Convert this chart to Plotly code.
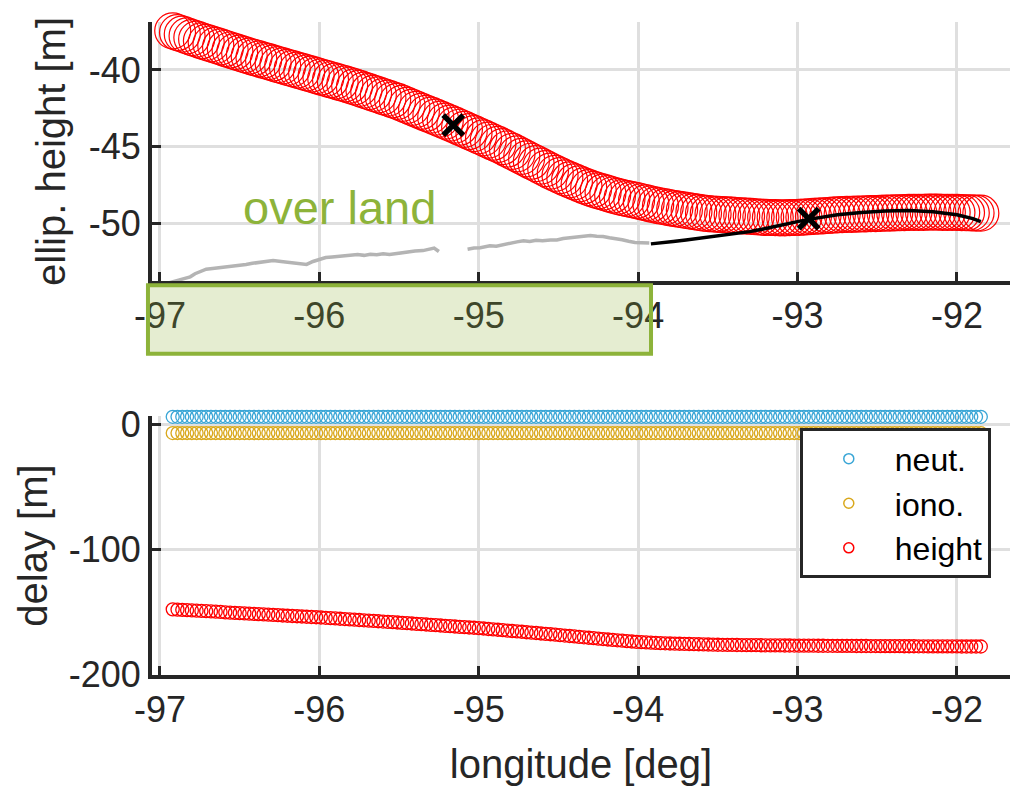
import plotly.graph_objects as go

# ---------------- data ----------------
lon = [
    -96.92, -96.89, -96.86, -96.83, -96.80, -96.77, -96.74, -96.71, -96.68, -96.65,
    -96.62, -96.59, -96.56, -96.53, -96.50, -96.47, -96.44, -96.41, -96.38, -96.35,
    -96.32, -96.29, -96.26, -96.23, -96.20, -96.17, -96.14, -96.11, -96.08, -96.05,
    -96.02, -95.99, -95.96, -95.93, -95.90, -95.87, -95.84, -95.81, -95.78, -95.75,
    -95.72, -95.69, -95.66, -95.63, -95.60, -95.57, -95.54, -95.51, -95.48, -95.45,
    -95.42, -95.39, -95.36, -95.33, -95.30, -95.27, -95.24, -95.21, -95.18, -95.15,
    -95.12, -95.09, -95.06, -95.03, -95.00, -94.97, -94.94, -94.91, -94.88, -94.85,
    -94.82, -94.79, -94.76, -94.73, -94.70, -94.67, -94.64, -94.61, -94.58, -94.55,
    -94.52, -94.49, -94.46, -94.43, -94.40, -94.37, -94.34, -94.31, -94.28, -94.25,
    -94.22, -94.19, -94.16, -94.13, -94.10, -94.07, -94.04, -94.01, -93.98, -93.95,
    -93.92, -93.89, -93.86, -93.83, -93.80, -93.77, -93.74, -93.71, -93.68, -93.65,
    -93.62, -93.59, -93.56, -93.53, -93.50, -93.47, -93.44, -93.41, -93.38, -93.35,
    -93.32, -93.29, -93.26, -93.23, -93.20, -93.17, -93.14, -93.11, -93.08, -93.05,
    -93.02, -92.99, -92.96, -92.93, -92.90, -92.87, -92.84, -92.81, -92.78, -92.75,
    -92.72, -92.69, -92.66, -92.63, -92.60, -92.57, -92.54, -92.51, -92.48, -92.45,
    -92.42, -92.39, -92.36, -92.33, -92.30, -92.27, -92.24, -92.21, -92.18, -92.15,
    -92.12, -92.09, -92.06, -92.03, -92.00, -91.97, -91.94, -91.91, -91.88, -91.85,
]

ellip_height = [
    -37.45, -37.56, -37.67, -37.78, -37.89, -37.99, -38.10, -38.20, -38.30, -38.40,
    -38.50, -38.60, -38.70, -38.80, -38.90, -39.00, -39.10, -39.19, -39.28, -39.37,
    -39.46, -39.55, -39.65, -39.74, -39.83, -39.92, -40.01, -40.10, -40.19, -40.28,
    -40.37, -40.46, -40.55, -40.64, -40.73, -40.82, -40.91, -41.00, -41.11, -41.21,
    -41.32, -41.42, -41.53, -41.63, -41.74, -41.84, -41.95, -42.05, -42.18, -42.31,
    -42.44, -42.57, -42.70, -42.83, -42.95, -43.08, -43.21, -43.34, -43.47, -43.60,
    -43.74, -43.88, -44.02, -44.16, -44.30, -44.44, -44.58, -44.72, -44.86, -45.00,
    -45.16, -45.32, -45.48, -45.64, -45.80, -45.96, -46.12, -46.28, -46.44, -46.60,
    -46.75, -46.90, -47.04, -47.18, -47.31, -47.44, -47.56, -47.68, -47.79, -47.89,
    -47.98, -48.07, -48.16, -48.25, -48.33, -48.40, -48.46, -48.52, -48.60, -48.68,
    -48.75, -48.82, -48.88, -48.94, -49.00, -49.05, -49.10, -49.15, -49.20, -49.25,
    -49.30, -49.35, -49.38, -49.40, -49.42, -49.44, -49.46, -49.48, -49.50, -49.52,
    -49.54, -49.56, -49.58, -49.60, -49.62, -49.63, -49.64, -49.65, -49.65, -49.64,
    -49.63, -49.62, -49.60, -49.58, -49.56, -49.54, -49.52, -49.50, -49.48, -49.46,
    -49.44, -49.43, -49.42, -49.41, -49.40, -49.39, -49.38, -49.37, -49.36, -49.35,
    -49.34, -49.33, -49.32, -49.31, -49.30, -49.30, -49.29, -49.29, -49.28, -49.28,
    -49.28, -49.29, -49.29, -49.30, -49.30, -49.31, -49.32, -49.33, -49.34, -49.35,
]

height_delay = [
    -148.0, -148.2, -148.4, -148.6, -148.9, -149.1, -149.3, -149.5, -149.7, -149.9,
    -150.1, -150.4, -150.6, -150.8, -151.0, -151.2, -151.4, -151.6, -151.8, -152.0,
    -152.2, -152.4, -152.6, -152.9, -153.1, -153.3, -153.5, -153.7, -153.9, -154.1,
    -154.3, -154.5, -154.75, -155.0, -155.25, -155.5, -155.75, -156.0, -156.25, -156.5,
    -156.75, -157.0, -157.25, -157.5, -157.75, -158.0, -158.25, -158.5, -158.8, -159.0,
    -159.3, -159.6, -159.8, -160.1, -160.4, -160.6, -160.9, -161.2, -161.4, -161.7,
    -162.0, -162.2, -162.5, -162.7, -163.0, -163.3, -163.7, -164.0, -164.3, -164.6,
    -165.0, -165.3, -165.6, -165.9, -166.3, -166.6, -166.9, -167.3, -167.6, -167.9,
    -168.2, -168.6, -168.95, -169.3, -169.65, -170.0, -170.35, -170.7, -171.05, -171.4,
    -171.75, -172.1, -172.4, -172.75, -173.05, -173.4, -173.7, -174.0, -174.2, -174.4,
    -174.6, -174.8, -175.0, -175.15, -175.3, -175.4, -175.5, -175.6, -175.7, -175.8,
    -175.9, -176.0, -176.1, -176.2, -176.3, -176.35, -176.4, -176.45, -176.5, -176.55,
    -176.6, -176.6, -176.65, -176.7, -176.75, -176.8, -176.8, -176.85, -176.9, -176.9,
    -176.95, -177.0, -177.0, -177.05, -177.05, -177.1, -177.1, -177.15, -177.15, -177.2,
    -177.2, -177.25, -177.25, -177.3, -177.3, -177.3, -177.35, -177.35, -177.4, -177.4,
    -177.4, -177.45, -177.45, -177.5, -177.5, -177.5, -177.55, -177.55, -177.6, -177.6,
    -177.6, -177.6, -177.65, -177.65, -177.65, -177.7, -177.7, -177.7, -177.7, -177.7,
]

neut_delay = [
    6.0, 6.0, 6.0, 6.0, 6.0, 6.0, 6.0, 6.0, 6.0, 6.0, 6.0, 6.0, 6.0, 6.0, 6.0, 6.0, 6.0,
    6.0, 6.0, 6.0, 6.0, 6.0, 6.0, 6.0, 6.0, 6.0, 6.0, 6.0, 6.0, 6.0, 6.0, 6.0, 6.0, 6.0,
    6.0, 6.0, 6.0, 6.0, 6.0, 6.0, 6.0, 6.0, 6.0, 6.0, 6.0, 6.0, 6.0, 6.0, 6.0, 6.0, 6.0,
    6.0, 6.0, 6.0, 6.0, 6.0, 6.0, 6.0, 6.0, 6.0, 6.0, 6.0, 6.0, 6.0, 6.0, 6.0, 6.0, 6.0,
    6.0, 6.0, 6.0, 6.0, 6.0, 6.0, 6.0, 6.0, 6.0, 6.0, 6.0, 6.0, 6.0, 6.0, 6.0, 6.0, 6.0,
    6.0, 6.0, 6.0, 6.0, 6.0, 6.0, 6.0, 6.0, 6.0, 6.0, 6.0, 6.0, 6.0, 6.0, 6.0, 6.0, 6.0,
    6.0, 6.0, 6.0, 6.0, 6.0, 6.0, 6.0, 6.0, 6.0, 6.0, 6.0, 6.0, 6.0, 6.0, 6.0, 6.0, 6.0,
    6.0, 6.0, 6.0, 6.0, 6.0, 6.0, 6.0, 6.0, 6.0, 6.0, 6.0, 6.0, 6.0, 6.0, 6.0, 6.0, 6.0,
    6.0, 6.0, 6.0, 6.0, 6.0, 6.0, 6.0, 6.0, 6.0, 6.0, 6.0, 6.0, 6.0, 6.0, 6.0, 6.0, 6.0,
    6.0, 6.0, 6.0, 6.0, 6.0, 6.0, 6.0, 6.0, 6.0, 6.0, 6.0, 6.0, 6.0, 6.0, 6.0, 6.0, 6.0,
]

iono_delay = [
    -7.0, -7.0, -7.0, -7.0, -7.0, -7.0, -7.0, -7.0, -7.0, -7.0, -7.0, -7.0, -7.0, -7.0, -7.0, -7.0, -7.0,
    -7.0, -7.0, -7.0, -7.0, -7.0, -7.0, -7.0, -7.0, -7.0, -7.0, -7.0, -7.0, -7.0, -7.0, -7.0, -7.0, -7.0,
    -7.0, -7.0, -7.0, -7.0, -7.0, -7.0, -7.0, -7.0, -7.0, -7.0, -7.0, -7.0, -7.0, -7.0, -7.0, -7.0, -7.0,
    -7.0, -7.0, -7.0, -7.0, -7.0, -7.0, -7.0, -7.0, -7.0, -7.0, -7.0, -7.0, -7.0, -7.0, -7.0, -7.0, -7.0,
    -7.0, -7.0, -7.0, -7.0, -7.0, -7.0, -7.0, -7.0, -7.0, -7.0, -7.0, -7.0, -7.0, -7.0, -7.0, -7.0, -7.0,
    -7.0, -7.0, -7.0, -7.0, -7.0, -7.0, -7.0, -7.0, -7.0, -7.0, -7.0, -7.0, -7.0, -7.0, -7.0, -7.0, -7.0,
    -7.0, -7.0, -7.0, -7.0, -7.0, -7.0, -7.0, -7.0, -7.0, -7.0, -7.0, -7.0, -7.0, -7.0, -7.0, -7.0, -7.0,
    -7.0, -7.0, -7.0, -7.0, -7.0, -7.0, -7.0, -7.0, -7.0, -7.0, -7.0, -7.0, -7.0, -7.0, -7.0, -7.0, -7.0,
    -7.0, -7.0, -7.0, -7.0, -7.0, -7.0, -7.0, -7.0, -7.0, -7.0, -7.0, -7.0, -7.0, -7.0, -7.0, -7.0, -7.0,
    -7.0, -7.0, -7.0, -7.0, -7.0, -7.0, -7.0, -7.0, -7.0, -7.0, -7.0, -7.0, -7.0, -7.0, -7.0, -7.0, -7.0,
]

# gray (over land) surface profile; None marks the data gap
land_lon = [
    -96.98, -96.93, -96.88, -96.84, -96.81, -96.78, -96.74, -96.71, -96.67, -96.62,
    -96.57, -96.53, -96.50, -96.46, -96.42, -96.38, -96.34, -96.29, -96.24, -96.20,
    -96.16, -96.12, -96.08, -96.04, -96.00, -95.96, -95.92, -95.88, -95.84, -95.80,
    -95.76, -95.72, -95.68, -95.64, -95.60, -95.56, -95.52, -95.48, -95.44, -95.40,
    -95.35, -95.31, -95.28, -95.25, None,
    -95.07, -95.03, -94.99, -94.95, -94.93, -94.89, -94.85, -94.80, -94.76, -94.72,
    -94.68, -94.64, -94.60, -94.55, -94.51, -94.47, -94.43, -94.39, -94.34, -94.30,
    -94.26, -94.22, -94.18, -94.14, -94.10, -94.06, -94.02, -93.98, -93.93,
]
land_h = [
    -54.00, -53.85, -53.70, -53.55, -53.50, -53.30, -53.15, -53.00, -52.95, -52.90,
    -52.85, -52.80, -52.76, -52.70, -52.62, -52.58, -52.50, -52.44, -52.50, -52.55,
    -52.62, -52.66, -52.69, -52.50, -52.38, -52.24, -52.20, -52.15, -52.10, -52.08,
    -52.05, -52.10, -52.03, -52.06, -52.00, -52.05, -51.98, -51.92, -51.86, -51.82,
    -51.79, -51.70, -51.62, -51.85, None,
    -51.70, -51.62, -51.60, -51.55, -51.47, -51.50, -51.40, -51.30, -51.22, -51.15,
    -51.20, -51.12, -51.14, -51.10, -51.09, -51.00, -50.95, -50.92, -50.88, -50.80,
    -50.85, -50.87, -50.95, -51.00, -51.08, -51.18, -51.26, -51.28, -51.30,
]

# black (over water) surface profile
sea_lon = [-93.92, -93.85, -93.78, -93.70, -93.60, -93.50, -93.40, -93.30, -93.20, -93.10,
           -93.00, -92.93, -92.85, -92.75, -92.60, -92.45, -92.30, -92.15, -92.00, -91.90, -91.85]
sea_h = [-51.35, -51.30, -51.20, -51.10, -50.96, -50.80, -50.66, -50.55, -50.35, -50.15,
         -49.90, -49.75, -49.60, -49.45, -49.30, -49.20, -49.17, -49.25, -49.45, -49.70, -49.90]

cross_lon = [-95.16, -92.93]
cross_h = [-43.6, -49.7]

lon_ticks = [-97, -96, -95, -94, -93, -92]
lon_ticktext = ["-97", "-96", "-95", "-94", "-93", "-92"]
top_ticks = [-50, -45, -40]
top_ticktext = ["-50", "-45", "-40"]
bot_ticks = [-200, -100, 0]
bot_ticktext = ["-200", "-100", "0"]

# ---------------- style ----------------
INK = "#262626"
GRID = "#dfdfdf"
RED = "#ff0000"
BLUE = "#3aa6d6"
YELLOW = "#d9a81c"
GREEN = "#8db33a"
FONT = "Liberation Sans, Arial, sans-serif"

fig = go.Figure()

# top panel
fig.add_trace(go.Scatter(x=lon, y=ellip_height, mode="markers", xaxis="x", yaxis="y",
                         marker=dict(symbol="circle-open", size=36, color=RED, line=dict(width=1.2, color=RED)),
                         showlegend=False, cliponaxis=False))
fig.add_trace(go.Scatter(x=land_lon, y=land_h, mode="lines", xaxis="x", yaxis="y",
                         line=dict(color="#b4b4b4", width=3.5), showlegend=False, connectgaps=False))
fig.add_trace(go.Scatter(x=sea_lon, y=sea_h, mode="lines", xaxis="x", yaxis="y",
                         line=dict(color="black", width=3.5), showlegend=False))
fig.add_trace(go.Scatter(x=cross_lon, y=cross_h, mode="markers", xaxis="x", yaxis="y",
                         marker=dict(symbol="x-thin", size=20, color="black", line=dict(width=5.5, color="black")),
                         showlegend=False, cliponaxis=False))

# bottom panel
for name, vals, col in [("neut.", neut_delay, BLUE), ("iono.", iono_delay, YELLOW), ("height", height_delay, RED)]:
    fig.add_trace(go.Scatter(x=lon, y=vals, mode="markers", xaxis="x2", yaxis="y2",
                             marker=dict(symbol="circle-open", size=13, color=col, line=dict(width=1.3, color=col)),
                             showlegend=False, cliponaxis=False))
for name, col in [("neut.", BLUE), ("iono.", YELLOW), ("height", RED)]:
    fig.add_trace(go.Scatter(x=[None], y=[None], mode="markers", xaxis="x2", yaxis="y2", name=name,
                             marker=dict(symbol="circle-open", size=10, color=col, line=dict(width=1.5, color=col))))

axis_common = dict(
    ticks="inside", ticklen=9, tickwidth=3, tickcolor=INK,
    showline=True, linewidth=4, linecolor=INK,
    showgrid=True, gridcolor=GRID, gridwidth=3,
    zeroline=False, tickfont=dict(size=36, color=INK, family=FONT),
)
XR = [-97.05, -91.667]

fig.update_layout(
    width=1010, height=789,
    margin=dict(l=152, r=0, t=0, b=114),
    paper_bgcolor="white", plot_bgcolor="white",
    font=dict(family=FONT, color=INK, size=36),
    xaxis=dict(domain=[0, 1], anchor="y", range=XR, tickvals=lon_ticks, ticktext=lon_ticktext, **axis_common),
    yaxis=dict(domain=[0.5941, 0.9852], anchor="x", range=[-53.78, -36.86],
               tickvals=top_ticks, ticktext=top_ticktext,
               title=dict(text="ellip. height [m]", font=dict(size=40, color=INK, family=FONT), standoff=12),
               **axis_common),
    xaxis2=dict(domain=[0, 1], anchor="y2", range=XR, tickvals=lon_ticks, ticktext=lon_ticktext,
                title=dict(text="longitude [deg]", font=dict(size=40, color=INK, family=FONT), standoff=22),
                **axis_common),
    yaxis2=dict(domain=[0, 0.3904], anchor="x2", range=[-200.5, 6.5],
                tickvals=bot_ticks, ticktext=bot_ticktext,
                title=dict(text="delay [m]", font=dict(size=40, color=INK, family=FONT), standoff=10),
                **axis_common),
    legend=dict(x=0.755, y=0.372, xanchor="left", yanchor="top",
                bgcolor="white", bordercolor=INK, borderwidth=3,
                font=dict(size=32, color="black", family=FONT), itemwidth=82, tracegroupgap=0),
    showlegend=True,
)

# "over land" highlight
fig.add_shape(type="rect", xref="paper", yref="paper",
              x0=-0.0047, x1=0.5816, y0=0.4844, y1=0.588,
              fillcolor="rgba(141,179,58,0.23)", line=dict(color=GREEN, width=4), layer="above")
fig.add_annotation(text="over land", xref="paper", yref="paper", x=0.219, y=0.705,
                   showarrow=False, font=dict(size=47, color=GREEN, family=FONT),
                   xanchor="center", yanchor="middle")

fig.write_html("out.html")
